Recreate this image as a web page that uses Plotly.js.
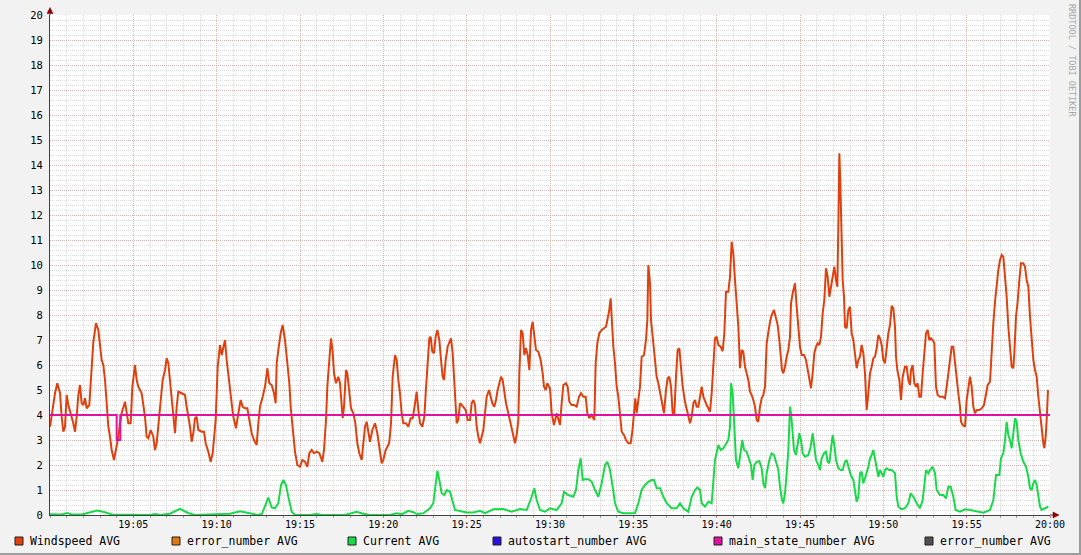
<!DOCTYPE html>
<html>
<head>
<meta charset="utf-8">
<script src="https://cdn.plot.ly/plotly-3.0.1.min.js"></script>
<style>
html,body{margin:0;padding:0;background:#F2F2F2;}
#wrap{width:1081px;height:555px;box-sizing:border-box;border-right:2px solid #9C9C9C;border-bottom:2px solid #9C9C9C;background:#F2F2F2;overflow:hidden;}
#chart{width:1079px;height:553px;}
</style>
</head>
<body>
<div id="wrap"><div id="chart"></div></div>
<script>
// ---- data (minutes after 19:00) ----
const windMinutes = [0.00,0.30,0.44,0.60,0.70,0.80,0.90,1.00,1.10,1.30,1.40,1.50,1.60,1.70,1.80,1.90,2.00,2.10,2.20,2.36,2.50,2.60,2.76,2.90,3.00,3.10,3.20,3.30,3.40,3.50,3.60,3.70,3.84,3.96,4.10,4.20,4.30,4.50,4.60,4.70,4.84,4.94,5.10,5.20,5.30,5.50,5.70,5.80,5.90,6.04,6.20,6.30,6.40,6.50,6.60,6.76,6.90,7.00,7.10,7.20,7.30,7.40,7.50,7.60,7.70,7.90,8.10,8.20,8.40,8.50,8.60,8.70,8.80,8.90,9.10,9.24,9.34,9.50,9.64,9.76,9.84,9.94,10.06,10.20,10.30,10.40,10.50,10.60,10.70,10.80,10.90,11.00,11.16,11.30,11.44,11.56,11.70,11.84,11.96,12.10,12.24,12.40,12.50,12.60,12.76,12.90,13.04,13.16,13.30,13.44,13.54,13.60,13.70,13.84,13.96,14.10,14.24,14.36,14.44,14.56,14.70,14.84,15.00,15.14,15.30,15.44,15.56,15.70,15.84,16.00,16.16,16.34,16.44,16.56,16.64,16.76,16.86,16.96,17.04,17.16,17.30,17.40,17.50,17.56,17.64,17.76,17.84,17.96,18.06,18.20,18.32,18.44,18.56,18.70,18.80,18.90,19.00,19.10,19.20,19.34,19.50,19.64,19.76,19.90,20.00,20.14,20.30,20.36,20.46,20.56,20.70,20.80,20.90,21.00,21.10,21.20,21.36,21.50,21.64,21.76,21.86,22.00,22.10,22.20,22.34,22.46,22.56,22.66,22.76,22.84,22.94,23.04,23.14,23.24,23.36,23.46,23.56,23.64,23.74,23.86,23.96,24.06,24.16,24.24,24.32,24.40,24.50,24.60,24.70,24.80,24.94,25.06,25.20,25.30,25.40,25.50,25.60,25.70,25.80,25.90,26.00,26.10,26.20,26.34,26.44,26.54,26.66,26.76,26.86,26.96,27.06,27.16,27.26,27.36,27.50,27.64,27.76,27.90,28.00,28.10,28.16,28.26,28.36,28.46,28.56,28.66,28.76,28.86,28.96,29.06,29.16,29.30,29.44,29.56,29.64,29.74,29.84,29.94,30.00,30.10,30.24,30.40,30.50,30.60,30.70,30.80,30.96,31.06,31.16,31.30,31.44,31.60,31.74,31.86,32.00,32.14,32.24,32.36,32.50,32.60,32.66,32.74,32.84,32.96,33.10,33.24,33.36,33.44,33.54,33.64,33.72,33.80,33.90,34.00,34.10,34.20,34.30,34.44,34.56,34.70,34.84,34.94,35.04,35.12,35.20,35.30,35.40,35.50,35.64,35.76,35.84,35.90,36.00,36.06,36.16,36.26,36.40,36.50,36.60,36.74,36.84,36.96,37.06,37.16,37.26,37.36,37.46,37.56,37.66,37.76,37.86,37.96,38.10,38.20,38.30,38.40,38.50,38.60,38.70,38.80,38.90,39.00,39.10,39.20,39.30,39.40,39.50,39.60,39.70,39.80,39.90,40.00,40.10,40.24,40.36,40.46,40.56,40.70,40.80,40.90,41.00,41.10,41.20,41.30,41.40,41.50,41.60,41.70,41.80,41.90,42.00,42.10,42.20,42.30,42.40,42.50,42.60,42.70,42.80,42.90,43.00,43.10,43.20,43.30,43.44,43.56,43.66,43.76,43.84,43.92,44.00,44.10,44.20,44.30,44.40,44.46,44.56,44.70,44.80,44.90,45.00,45.10,45.24,45.36,45.46,45.56,45.66,45.76,45.86,45.96,46.06,46.16,46.26,46.36,46.46,46.56,46.66,46.76,46.86,46.96,47.06,47.16,47.24,47.30,47.36,47.42,47.50,47.56,47.64,47.70,47.80,47.90,48.00,48.10,48.20,48.30,48.40,48.50,48.60,48.70,48.80,48.90,49.00,49.10,49.20,49.30,49.40,49.50,49.60,49.70,49.80,49.90,50.00,50.10,50.20,50.30,50.40,50.50,50.60,50.70,50.76,50.84,50.96,51.06,51.16,51.30,51.40,51.50,51.60,51.66,51.76,51.86,51.96,52.06,52.16,52.26,52.36,52.46,52.56,52.66,52.76,52.86,52.96,53.06,53.16,53.26,53.40,53.56,53.70,53.80,53.90,54.00,54.10,54.20,54.30,54.40,54.50,54.60,54.66,54.76,54.90,55.00,55.10,55.20,55.30,55.40,55.50,55.60,55.76,55.90,56.04,56.16,56.26,56.40,56.50,56.60,56.70,56.80,56.90,57.00,57.10,57.20,57.30,57.40,57.50,57.60,57.70,57.80,57.86,57.96,58.06,58.16,58.26,58.40,58.50,58.60,58.70,58.80,58.90,59.00,59.10,59.20,59.30,59.40,59.50,59.60,59.66,59.74,59.80,59.88];
const windValues = [3.53,4.87,5.27,4.87,3.93,3.33,3.53,4.80,4.40,3.93,3.67,3.33,3.93,4.80,5.20,4.47,4.40,4.67,4.27,4.40,5.93,6.93,7.67,7.40,6.80,6.20,6.00,5.40,4.47,3.53,3.13,2.60,2.20,2.60,3.13,3.67,4.07,4.53,4.07,3.67,3.67,5.13,6.00,5.40,5.13,4.87,3.93,3.13,3.07,3.40,3.13,2.60,2.87,3.67,4.47,5.40,5.80,6.27,6.07,5.40,4.60,3.93,3.27,4.33,4.93,4.87,4.80,4.33,3.53,2.93,3.27,3.87,3.93,3.40,3.33,3.33,2.87,2.53,2.13,2.47,3.00,3.80,5.93,6.80,6.40,6.73,7.00,6.20,5.53,5.00,4.47,3.93,3.47,4.07,4.60,4.33,4.27,4.27,3.80,3.27,3.00,2.80,3.67,4.33,4.73,5.13,5.87,5.27,5.20,4.87,4.47,6.07,6.60,7.27,7.60,7.00,6.07,5.27,4.33,3.40,2.53,2.00,1.93,2.20,2.13,1.93,2.47,2.60,2.47,2.53,2.47,2.13,2.60,3.80,5.13,6.20,7.07,6.53,5.67,5.27,5.53,5.27,4.33,3.87,4.33,5.80,5.67,5.00,4.27,4.07,3.67,2.87,2.47,2.20,2.87,3.53,3.73,3.40,2.93,3.40,3.67,3.27,2.73,2.07,2.20,2.60,2.80,2.93,3.67,5.53,6.40,6.20,5.40,4.87,4.07,3.67,3.67,3.53,3.87,3.87,4.27,4.93,4.20,3.67,3.53,3.93,5.07,6.20,7.07,7.13,6.53,6.47,7.13,7.40,7.00,6.20,5.53,5.40,6.20,6.73,6.87,7.07,6.47,5.40,4.47,3.67,3.80,4.47,4.40,4.33,4.20,3.80,3.80,4.47,4.60,4.40,3.53,3.13,2.87,3.13,3.40,4.07,4.73,5.00,4.73,4.47,4.33,4.60,5.00,5.27,5.53,5.40,4.87,4.47,4.07,3.67,3.27,2.87,3.20,3.80,5.67,7.40,7.27,6.40,6.67,6.40,5.80,7.40,7.73,7.27,6.60,6.53,6.20,5.67,5.13,5.00,5.27,5.13,5.07,4.07,3.60,4.07,3.87,3.60,4.47,5.20,5.27,5.13,4.53,4.40,4.40,4.33,4.73,4.87,4.73,4.73,4.07,3.87,4.00,3.87,3.80,6.07,6.87,7.27,7.40,7.47,7.53,7.80,8.13,8.67,7.53,6.73,6.07,5.13,4.73,4.07,3.33,3.20,3.00,2.87,2.87,3.33,4.07,4.67,4.07,4.73,5.13,6.33,6.40,7.00,7.80,10.00,9.27,7.80,7.13,6.33,5.53,5.27,4.87,4.47,4.07,5.00,5.47,5.53,5.13,4.07,4.07,5.53,6.60,6.67,5.80,5.13,4.53,4.20,4.00,3.67,3.93,4.47,4.60,4.33,4.33,4.73,5.13,4.73,4.53,4.40,4.27,4.13,4.87,5.93,7.07,7.13,6.80,6.73,6.55,7.27,8.93,8.93,9.53,10.93,10.47,9.40,8.47,7.53,5.87,6.60,6.53,5.93,5.67,5.40,4.93,4.80,4.60,4.33,3.80,3.73,4.33,4.67,4.80,5.13,6.87,7.40,7.73,8.00,8.20,7.87,7.60,7.00,6.33,5.80,5.67,5.93,6.33,6.60,7.13,8.47,8.87,9.27,8.33,7.67,6.73,6.40,6.40,6.20,5.80,5.53,5.07,5.67,6.47,6.73,6.87,6.80,7.13,8.07,8.60,9.87,9.53,8.73,9.13,9.67,9.93,9.40,9.13,11.53,14.47,13.27,11.00,9.40,8.73,7.53,7.47,8.20,8.33,7.27,7.00,6.47,5.87,6.20,6.33,6.80,6.47,5.67,4.20,4.87,5.67,5.93,6.27,6.33,6.67,7.20,7.07,6.80,6.20,6.07,6.73,7.27,7.60,8.37,8.27,7.53,6.33,5.80,5.40,4.60,5.53,5.93,5.93,5.40,5.20,5.80,6.00,5.27,5.13,5.27,4.73,4.73,5.67,6.40,7.27,7.40,7.00,7.07,7.00,6.87,5.13,4.80,4.73,4.73,4.67,5.13,5.73,6.33,6.73,6.73,6.07,5.27,4.87,4.33,3.73,3.60,3.53,4.60,5.13,5.53,5.13,4.33,4.07,4.20,4.20,4.27,4.40,4.87,5.20,5.33,6.60,7.67,8.53,9.33,9.80,10.20,10.40,10.33,9.67,8.73,7.53,6.60,5.93,5.87,6.47,7.93,8.53,9.40,10.07,10.07,9.93,9.40,9.13,7.93,7.00,6.20,5.80,5.53,4.73,4.07,3.27,2.87,2.67,3.13,3.80,5.00];

const currentMinutes = [0.00,0.72,1.02,1.32,1.92,2.40,2.82,3.24,3.72,6.00,6.30,6.60,7.20,7.80,8.28,8.70,9.90,10.80,11.40,12.00,12.48,12.72,12.90,13.10,13.30,13.50,13.70,13.86,14.00,14.16,14.30,14.50,14.70,15.60,16.00,16.32,17.70,18.00,18.40,18.78,19.20,20.40,20.80,21.12,21.50,21.84,22.00,22.40,22.80,23.00,23.16,23.24,23.36,23.50,23.66,23.80,24.00,24.16,24.30,24.60,25.00,25.40,25.80,26.10,26.60,27.20,27.70,28.20,28.60,28.90,29.06,29.20,29.40,29.70,30.00,30.40,30.70,30.84,31.10,31.40,31.56,31.70,31.84,31.96,32.10,32.30,32.50,32.70,32.90,33.10,33.30,33.44,33.60,33.76,33.90,34.10,34.40,34.80,35.10,35.30,35.50,35.70,35.90,36.10,36.24,36.40,36.60,36.80,37.00,37.30,37.60,37.80,38.00,38.30,38.50,38.70,38.84,39.00,39.10,39.30,39.50,39.70,39.80,39.90,40.10,40.24,40.40,40.60,40.70,40.80,40.86,40.96,41.04,41.16,41.30,41.44,41.54,41.64,41.80,41.96,42.06,42.16,42.26,42.40,42.56,42.70,42.80,42.90,43.00,43.16,43.30,43.44,43.56,43.70,43.80,43.92,44.00,44.10,44.20,44.30,44.40,44.46,44.56,44.64,44.76,44.86,44.96,45.06,45.16,45.30,45.50,45.64,45.76,45.86,45.96,46.10,46.20,46.30,46.44,46.56,46.66,46.76,46.86,46.96,47.06,47.16,47.30,47.44,47.56,47.70,47.80,47.90,48.04,48.20,48.30,48.40,48.50,48.60,48.70,48.80,48.90,49.00,49.10,49.20,49.30,49.40,49.50,49.60,49.70,49.80,49.90,50.00,50.10,50.20,50.34,50.50,50.70,50.80,50.90,51.10,51.30,51.50,51.64,51.80,52.00,52.20,52.36,52.46,52.56,52.70,52.80,52.96,53.10,53.20,53.40,53.60,53.76,53.90,54.04,54.20,54.34,54.60,54.90,55.20,55.60,56.00,56.40,56.60,56.76,56.96,57.06,57.20,57.30,57.40,57.50,57.60,57.70,57.80,57.90,58.00,58.10,58.24,58.40,58.56,58.70,58.80,58.90,59.00,59.10,59.20,59.30,59.40,59.50,59.70,59.90];
const currentValues = [0.03,0.02,0.08,0.02,0.02,0.12,0.18,0.12,0.02,0.00,0.04,0.00,0.05,0.25,0.08,0.00,0.03,0.05,0.15,0.05,0.00,0.05,0.33,0.70,0.30,0.27,0.47,1.20,1.40,1.20,0.73,0.13,0.00,0.00,0.04,0.00,0.00,0.05,0.13,0.05,0.00,0.00,0.07,0.03,0.17,0.10,0.04,0.07,0.27,0.47,1.40,1.77,1.40,0.87,0.80,1.00,0.93,0.47,0.20,0.16,0.10,0.10,0.17,0.07,0.23,0.24,0.13,0.24,0.20,0.73,1.07,0.60,0.20,0.13,0.27,0.20,0.47,0.93,0.80,0.73,1.00,1.80,2.27,1.40,1.43,1.43,1.33,1.00,0.73,1.27,2.00,2.13,1.80,1.13,0.47,0.13,0.07,0.07,0.07,0.47,1.00,1.20,1.33,1.40,1.40,1.07,1.07,0.73,0.47,0.27,0.27,0.47,0.27,0.13,0.73,1.00,1.10,1.00,0.47,0.33,0.53,0.47,1.27,2.20,2.80,2.60,2.67,2.87,3.00,3.53,5.27,4.87,3.67,2.20,1.87,2.47,3.00,2.60,2.53,2.20,2.00,1.40,2.00,2.13,2.16,1.87,1.27,1.07,1.67,2.20,2.47,2.40,2.07,1.80,1.13,0.60,0.47,0.87,1.67,2.60,4.33,4.07,3.27,2.60,2.40,2.87,3.27,3.00,2.47,2.33,2.40,2.73,3.27,2.73,2.20,2.00,1.80,2.27,2.47,2.53,2.13,2.07,2.73,3.20,2.80,2.20,1.87,1.80,1.80,2.13,2.20,1.93,1.60,1.40,1.00,0.53,0.73,1.67,1.73,1.27,1.47,1.67,1.93,2.27,2.40,2.60,2.20,1.80,1.53,1.80,1.67,1.53,1.80,1.87,1.80,1.80,1.67,0.73,0.33,0.23,0.27,0.47,0.87,0.73,0.47,0.27,0.60,1.27,1.80,1.67,1.80,1.93,1.67,1.00,0.80,0.80,0.67,1.13,1.13,0.73,0.20,0.13,0.23,0.20,0.13,0.09,0.20,0.60,1.60,1.60,2.27,2.47,3.00,3.73,3.20,3.00,2.67,3.27,3.87,3.73,3.00,2.47,2.13,1.93,1.53,1.07,1.00,1.27,1.40,1.20,0.73,0.33,0.20,0.27,0.33];

const stateMinutes = [0.00, 4.00, 4.22, 60.00];
const stateValues  = [4, 3, 4, 4];

const legendLabels = ["Windspeed AVG","error_number AVG","Current AVG","autostart_number AVG","main_state_number AVG","error_number AVG"];
const timeTickLabels = ["19:05","19:10","19:15","19:20","19:25","19:30","19:35","19:40","19:45","19:50","19:55","20:00"];
const yTickValues = [0,1,2,3,4,5,6,7,8,9,10,11,12,13,14,15,16,17,18,19,20];

// ---- styles ----
const legendColors = ["#E0400E","#E07A10","#18DA48","#2810E0","#E010A0","#505050"];
const legendPx = [15, 172, 348, 493, 714, 925];
const FONT = "DejaVu Sans Mono, monospace";

const BASE = Date.UTC(2024,0,1,19,0,0);
function toTime(m){ return new Date(BASE + m*60000).toISOString().replace('T',' ').replace('Z',''); }
function tickTime(lbl){ return "2024-01-01 " + lbl + ":00"; }
const px2x = px => (px - 50) / 1000;
const py2y = py => (515 - py) / 500;

const traces = [
  {x: windMinutes.map(toTime), y: windValues, type:'scatter', mode:'lines', name:legendLabels[0],
   line:{color:legendColors[0], width:2}, hoverinfo:'skip'},
  {x: currentMinutes.map(toTime), y: currentValues, type:'scatter', mode:'lines', name:legendLabels[2],
   line:{color:legendColors[2], width:2}, hoverinfo:'skip'},
  {x: stateMinutes.map(toTime), y: stateValues, type:'scatter', mode:'lines', name:legendLabels[4],
   line:{color:legendColors[4], width:2, shape:'hv'}, hoverinfo:'skip'}
];

const shapes = [];
const annotations = [];
legendLabels.forEach((lbl, i) => {
  const x = legendPx[i];
  shapes.push({type:'rect', xref:'paper', yref:'paper', x0:px2x(x), x1:px2x(x+8), y0:py2y(545), y1:py2y(537),
    fillcolor:legendColors[i], line:{color:'#202020', width:1}});
  annotations.push({xref:'paper', yref:'paper', x:px2x(x+13), y:py2y(541), xanchor:'left', yanchor:'middle',
    text:lbl, showarrow:false, font:{family:FONT, size:11.5, color:'#000'}});
});
// axis extension + arrows
shapes.push({type:'line', xref:'paper', yref:'paper', x0:0, x1:0, y0:1, y1:py2y(11), line:{color:'#404040', width:1}});
shapes.push({type:'path', xref:'paper', yref:'paper', path:
  `M ${px2x(47)} ${py2y(13.5)} L ${px2x(53)} ${py2y(13.5)} L ${px2x(50)} ${py2y(7.5)} Z`,
  fillcolor:'#8B0000', line:{color:'#8B0000', width:0.5}});
shapes.push({type:'line', xref:'paper', yref:'paper', x0:1, x1:px2x(1054), y0:0, y1:0, line:{color:'#404040', width:1}});
shapes.push({type:'path', xref:'paper', yref:'paper', path:
  `M ${px2x(1053)} ${py2y(512)} L ${px2x(1053)} ${py2y(518)} L ${px2x(1059)} ${py2y(515)} Z`,
  fillcolor:'#8B0000', line:{color:'#8B0000', width:0.5}});

annotations.push({xref:'paper', yref:'paper', x:px2x(1072), y:py2y(60), xanchor:'center', yanchor:'middle',
  textangle:90, showarrow:false,
  text:'RRDTOOL / TOBI OETIKER', font:{family:FONT, size:8.5, color:'#A8A8A8'}});

const layout = {
  width:1079, height:553,
  margin:{l:50, r:29, t:15, b:38},
  paper_bgcolor:'rgba(0,0,0,0)', plot_bgcolor:'#FFFFFF',
  showlegend:false,
  font:{family:FONT, size:10, color:'#000'},
  xaxis:{type:'date', range:[toTime(0), toTime(60)],
    tickmode:'array', tickvals:timeTickLabels.map(tickTime), ticktext:timeTickLabels,
    showgrid:true, gridcolor:'rgba(220,130,130,0.45)', griddash:'1px,1px', gridwidth:1,
    ticks:'outside', ticklen:2, tickcolor:'#C08080', ticklabelstandoff:-2,
    minor:{tick0:toTime(0), dtick:60000, showgrid:true, gridcolor:'rgba(165,165,165,0.38)', griddash:'1px,1px',
      ticks:'outside', ticklen:2, tickcolor:'#A0A0A0'},
    showline:true, linecolor:'#404040', linewidth:1, zeroline:false, mirror:false,
    tickfont:{family:FONT, size:10, color:'#000'}, fixedrange:true},
  yaxis:{range:[0,20], tickmode:'array', tickvals:yTickValues, ticktext:yTickValues.map(String),
    showgrid:true, gridcolor:'rgba(220,130,130,0.45)', griddash:'1px,1px', gridwidth:1,
    ticks:'', ticklabelstandoff:4,
    minor:{tick0:0, dtick:0.2, showgrid:true, gridcolor:'rgba(165,165,165,0.38)', griddash:'1px,1px'},
    showline:true, linecolor:'#404040', linewidth:1, zeroline:false,
    tickfont:{family:FONT, size:10.5, color:'#000'}, fixedrange:true},
  shapes:shapes, annotations:annotations
};

Plotly.newPlot('chart', traces, layout, {displayModeBar:false, staticPlot:true});
</script>
</body>
</html>
